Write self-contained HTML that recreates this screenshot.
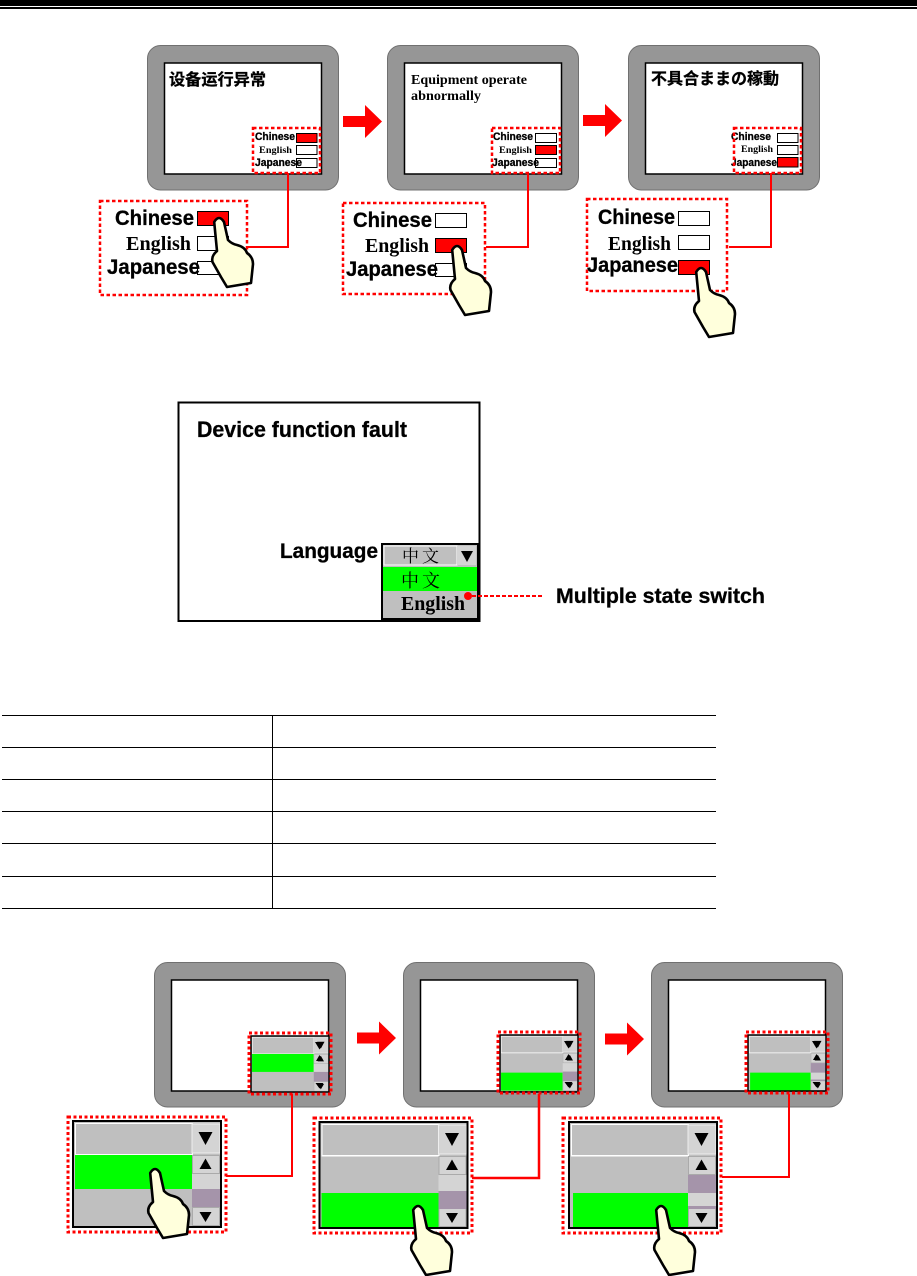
<!DOCTYPE html>
<html><head><meta charset="utf-8"><style>
html,body{margin:0;padding:0;background:#fff}
svg{display:block}
text{fill:#000;font-weight:bold}
.s{font-family:"Liberation Sans","Noto Sans CJK SC",sans-serif}
.s text,text.s{stroke:#000;stroke-width:.3}
.r{font-family:"Liberation Serif","Noto Serif CJK SC",serif}
.bs{font-size:21px}.br{font-size:20px}.ss{font-size:11px}.sr{font-size:9.5px}
.d{fill:none;stroke:#f00;stroke-width:2.5;stroke-dasharray:3.5 2.5}
.e{fill:none;stroke:#f00;stroke-width:3;stroke-dasharray:3 2.5}
.c{fill:none;stroke:#f00;stroke-width:2}
.b{stroke:#000;stroke-width:1;fill:#fff}.on{stroke:#000;stroke-width:1;fill:#f00}
</style></head><body>
<svg width="917" height="1276" viewBox="0 0 917 1276" xmlns="http://www.w3.org/2000/svg">
<defs>
<g id="dev"><rect x="0.5" y="0.5" width="191" height="144.5" rx="13" fill="#969696" stroke="#707070"/><rect x="17.500" y="18" width="157" height="111" fill="#fff" stroke="#000" stroke-width="1.5"/></g>
<path id="hand" d="M-3.8 5Q1 -3 6 5L10 23Q14 27 19 28Q27 30 29 36Q35 40 35 47L33 66L9 70L3 60L-5.500 45Q-7 39 -1 34Z" fill="#ffffdc" stroke="#000" stroke-width="2.6" stroke-linejoin="round"/>
<polygon id="arr" points="0,-5.5 22,-5.5 22,-16.5 39,0 22,16.5 22,5.5 0,5.5" fill="#f00"/>
<g id="top"><rect x="0" y="0" width="148" height="106" fill="#bfbfbf"/><rect x="2.5" y="2.5" width="117" height="31" fill="#bfbfbf" stroke="#fff"/><rect x="119" y="3" width="28" height="29" fill="#d4d4d4" stroke="#eee"/><polygon points="125.5,11 139.500,11 132.5,24" fill="#000"/></g>
<g id="scr"><rect x="119" y="34" width="28" height="71" fill="#d4d4d4"/><rect x="119.5" y="34.5" width="27" height="18" fill="#d4d4d4" stroke="#aaa"/><polygon points="126.5,48 138.5,48 132.5,37.500" fill="#000"/><rect x="119.5" y="86.5" width="27" height="18" fill="#d4d4d4" stroke="#aaa"/><polygon points="126.5,91 138.5,91 132.5,101" fill="#000"/></g>
<rect id="frm" x="0" y="0" width="148" height="106" fill="none" stroke="#000" stroke-width="2"/>
<g id="w1"><use href="#top"/><rect x="2" y="34" width="117" height="34" fill="#0f0"/><use href="#scr"/><rect x="119" y="68" width="28" height="18" fill="#a594aa"/></g>
<g id="w2"><use href="#top"/><rect x="2" y="71" width="117" height="34" fill="#0f0"/><line x1="2" y1="34" x2="119" y2="34" stroke="#fff"/><use href="#scr"/><rect x="119" y="69" width="28" height="18" fill="#a594aa"/></g>
<g id="w3"><use href="#top"/><rect x="4" y="71" width="115" height="34" fill="#0f0"/><line x1="2" y1="34" x2="119" y2="34" stroke="#fff"/><use href="#scr"/><rect x="119" y="53" width="28" height="18" fill="#a594aa"/><rect x="119" y="84" width="28" height="3" fill="#a594aa"/></g>
<g id="tri"><polygon points="-4.500,6 4.500,6 0,13.500" fill="#000"/><polygon points="-3.500,25 3.500,25 0,19" fill="#000"/><polygon points="-4,47 4,47 0,52.500" fill="#000"/></g>
</defs>

<rect x="0" y="0" width="917" height="6" fill="#000"/><rect x="0" y="7" width="917" height="2" fill="#000"/>

<use href="#dev" x="147" y="45"/><use href="#dev" x="387" y="45"/><use href="#dev" x="628" y="45"/>
<use href="#arr" x="343" y="121.5"/><use href="#arr" x="583" y="120.5"/>
<text class="s" x="169" y="85" font-size="16" textLength="97" lengthAdjust="spacingAndGlyphs">设备运行异常</text>
<text class="r" x="411" y="84" font-size="14" textLength="116" lengthAdjust="spacingAndGlyphs">Equipment operate</text>
<text class="r" x="411" y="100" font-size="14" textLength="70" lengthAdjust="spacingAndGlyphs">abnormally</text>
<text class="s" x="651" y="84" font-size="16" textLength="128" lengthAdjust="spacingAndGlyphs">不具合ままの稼動</text>

<!-- small selectors -->
<rect class="on" x="296.5" y="133.5" width="20.5" height="9"/><rect class="b" x="296.5" y="145.5" width="20.5" height="9"/><rect class="b" x="296.5" y="158.5" width="20.5" height="9"/>
<rect class="b" x="535.5" y="133.5" width="21" height="9"/><rect class="on" x="535.5" y="145.5" width="21" height="9"/><rect class="b" x="535.5" y="158.5" width="21" height="9"/>
<rect class="b" x="777.5" y="133.5" width="20.5" height="9"/><rect class="b" x="777.5" y="145.5" width="20.5" height="9"/><rect class="on" x="777.5" y="157.5" width="20.5" height="9.5"/>
<g class="s ss">
<text x="255" y="140" textLength="40" lengthAdjust="spacingAndGlyphs">Chinese</text><text x="255" y="166" textLength="47" lengthAdjust="spacingAndGlyphs">Japanese</text>
<text x="493" y="140" textLength="40" lengthAdjust="spacingAndGlyphs">Chinese</text><text x="492" y="166" textLength="47" lengthAdjust="spacingAndGlyphs">Japanese</text>
<text x="731" y="140" textLength="40" lengthAdjust="spacingAndGlyphs">Chinese</text><text x="731" y="166" textLength="46" lengthAdjust="spacingAndGlyphs">Japanese</text>
</g>
<g class="r sr">
<text x="259" y="153" textLength="33" lengthAdjust="spacingAndGlyphs">English</text><text x="499" y="153" textLength="33" lengthAdjust="spacingAndGlyphs">English</text><text x="741" y="152" textLength="32" lengthAdjust="spacingAndGlyphs">English</text>
</g>
<rect class="d" x="253" y="128" width="67" height="45"/><rect class="d" x="492" y="128" width="68" height="45"/><rect class="d" x="734" y="128" width="67" height="45"/>

<!-- connectors -->
<polyline class="c" points="288,173 288,247 246,247"/><polyline class="c" points="528,173 528,247 486,247"/><polyline class="c" points="771,173 771,247 729,247"/>

<!-- big selectors -->
<rect class="d" x="100" y="201" width="147" height="94"/><rect class="d" x="343" y="203" width="142" height="91"/><rect class="d" x="587" y="199" width="140" height="92"/>
<rect class="on" x="197.5" y="211.5" width="31" height="14"/><rect class="b" x="197.5" y="236.5" width="31" height="14"/><rect class="b" x="197.5" y="261.5" width="31" height="13"/>
<rect class="b" x="435.5" y="213.5" width="31" height="14"/><rect class="on" x="435.5" y="238.5" width="31" height="14"/><rect class="b" x="435.5" y="263.5" width="31" height="13"/>
<rect class="b" x="678.5" y="211.5" width="31" height="14"/><rect class="b" x="678.5" y="235.5" width="31" height="14"/><rect class="on" x="678.5" y="260.5" width="31" height="14"/>
<g class="s bs">
<text x="115" y="225" textLength="79" lengthAdjust="spacingAndGlyphs">Chinese</text><text x="107" y="274" textLength="93" lengthAdjust="spacingAndGlyphs">Japanese</text>
<text x="353" y="227" textLength="79" lengthAdjust="spacingAndGlyphs">Chinese</text><text x="346" y="276" textLength="92" lengthAdjust="spacingAndGlyphs">Japanese</text>
<text x="598" y="224" textLength="77" lengthAdjust="spacingAndGlyphs">Chinese</text><text x="587" y="272" textLength="91" lengthAdjust="spacingAndGlyphs">Japanese</text>
</g>
<g class="r br">
<text x="126" y="250" textLength="65" lengthAdjust="spacingAndGlyphs">English</text><text x="365" y="252" textLength="64" lengthAdjust="spacingAndGlyphs">English</text><text x="608" y="250" textLength="63" lengthAdjust="spacingAndGlyphs">English</text>
</g>
<use href="#hand" x="218" y="217"/><use href="#hand" x="456" y="245"/><use href="#hand" x="700" y="267"/>

<!-- middle figure -->
<rect x="178.5" y="402.5" width="301" height="218.5" fill="#fff" stroke="#000" stroke-width="2"/>
<text class="s" x="197" y="437" font-size="22" textLength="210" lengthAdjust="spacingAndGlyphs">Device function fault</text>
<text class="s" x="280" y="558" font-size="21" textLength="98" lengthAdjust="spacingAndGlyphs">Language</text>
<rect x="382" y="544" width="96" height="75" fill="#bfbfbf" stroke="#000" stroke-width="2"/>
<rect x="384" y="546" width="73" height="19" fill="#bfbfbf" stroke="#fff"/><rect x="457" y="546" width="19" height="19" fill="#d4d4d4"/>
<polygon points="461,551 473,551 467,562" fill="#000"/>
<rect x="383" y="567" width="94" height="24" fill="#0f0"/>
<text class="r" x="402" y="562" font-size="17" letter-spacing="3" style="font-weight:normal">中文</text>
<text class="r" x="401" y="587" font-size="18" letter-spacing="3" style="font-weight:normal">中文</text>
<text class="r" x="401" y="610" font-size="20" textLength="64" lengthAdjust="spacingAndGlyphs">English</text>
<circle cx="468" cy="596" r="4" fill="#f00"/>
<line x1="472" y1="596" x2="543" y2="596" stroke="#f00" stroke-width="2" stroke-dasharray="4 2"/>
<text class="s" x="556" y="603" font-size="21" textLength="209" lengthAdjust="spacingAndGlyphs">Multiple state switch</text>

<!-- table -->
<g stroke="#000" stroke-width="1">
<line x1="2" y1="715.5" x2="716" y2="715.5"/><line x1="2" y1="747.5" x2="716" y2="747.5"/><line x1="2" y1="779.5" x2="716" y2="779.5"/><line x1="2" y1="811.5" x2="716" y2="811.5"/><line x1="2" y1="843.5" x2="716" y2="843.5"/><line x1="2" y1="876.5" x2="716" y2="876.5"/><line x1="2" y1="908.5" x2="716" y2="908.5"/><line x1="272.5" y1="715" x2="272.5" y2="909"/>
</g>

<!-- bottom -->
<use href="#dev" x="154" y="962"/><use href="#dev" x="403" y="962"/><use href="#dev" x="651" y="962"/>
<use href="#arr" x="357" y="1038"/><use href="#arr" x="605" y="1039"/>
<use href="#w1" transform="translate(251 1036) scale(.527 .528)"/>
<use href="#w2" transform="translate(500 1035) scale(.527 .53)"/>
<use href="#w3" transform="translate(748 1035) scale(.527 .53)"/>
<rect x="251" y="1036" width="78" height="56" fill="none" stroke="#000" stroke-width="1.5"/>
<rect x="500" y="1035" width="78" height="57" fill="none" stroke="#000" stroke-width="1.5"/>
<rect x="748" y="1035" width="78" height="56" fill="none" stroke="#000" stroke-width="1.5"/>
<use href="#tri" x="319.500" y="1036"/><use href="#tri" x="568.500" y="1035"/><use href="#tri" x="816.500" y="1035"/>
<rect class="e" x="249" y="1033" width="82" height="61"/>
<rect class="e" x="498" y="1032" width="82" height="61"/>
<rect class="e" x="746" y="1032" width="82" height="61"/>
<polyline class="c" points="292,1094 292,1176 226,1176"/><polyline class="c" style="stroke-width:2.5" points="539,1094 539,1178 472,1178"/><polyline class="c" points="789,1094 789,1177 722,1177"/>
<use href="#w1" x="73" y="1121"/><use href="#w2" x="319.500" y="1122"/><use href="#w3" x="569" y="1122"/>
<use href="#frm" x="73" y="1121"/><use href="#frm" x="319.500" y="1122"/><use href="#frm" x="569" y="1122"/>
<rect class="e" x="68" y="1117" width="158" height="115"/>
<rect class="e" x="314" y="1118" width="158" height="115"/>
<rect class="e" x="563" y="1118" width="158" height="115"/>
<use href="#hand" x="154" y="1168"/><use href="#hand" x="417" y="1205"/><use href="#hand" x="660" y="1205"/>
</svg>
</body></html>
